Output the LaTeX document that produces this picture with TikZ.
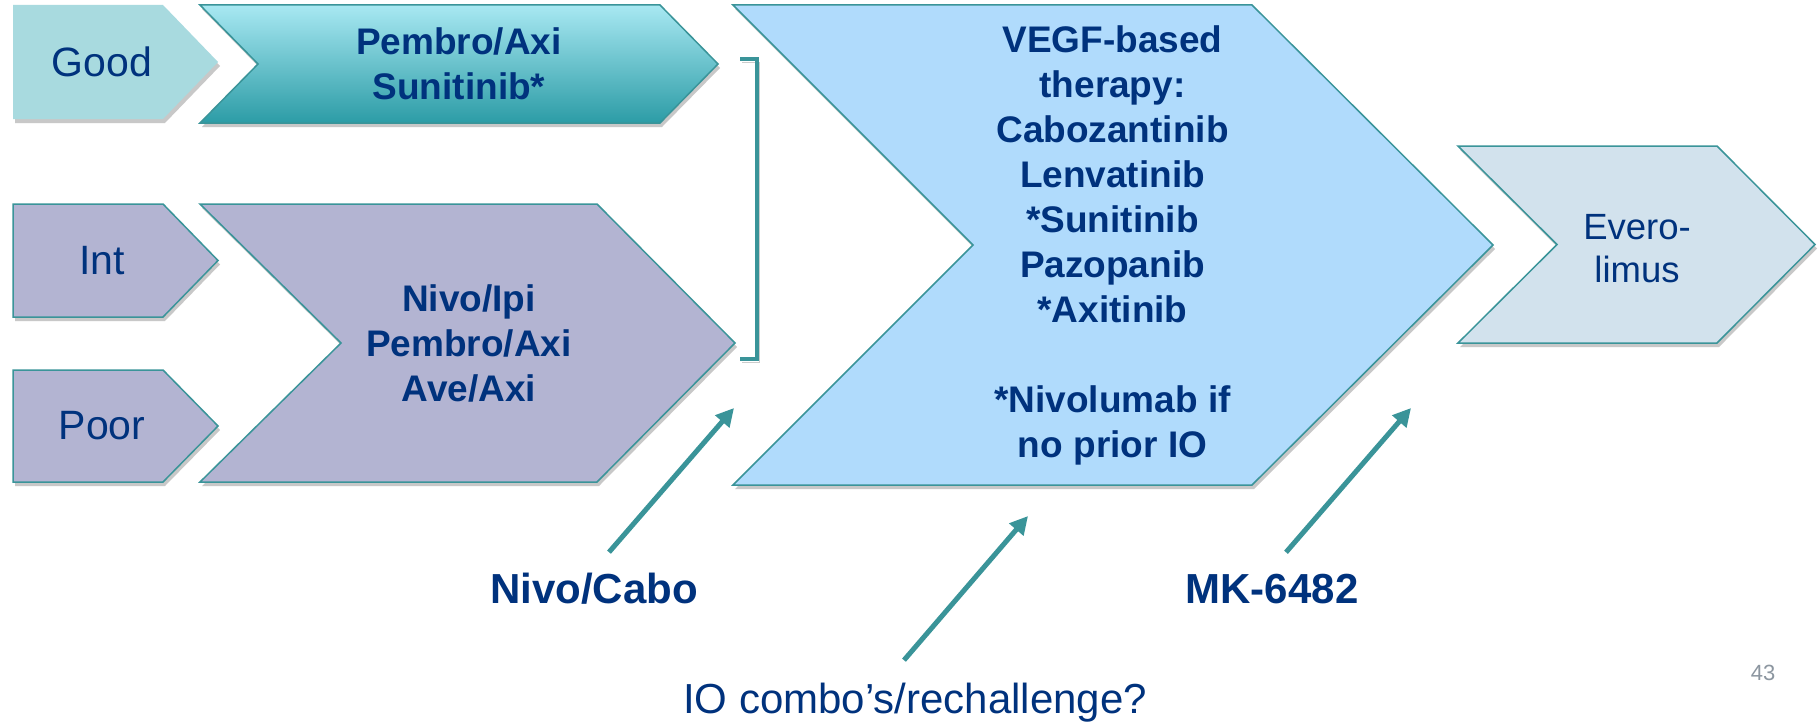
\documentclass[tikz,border=0pt]{standalone}
\usepackage{fontspec}
\setmainfont{Liberation Sans}
\usetikzlibrary{arrows.meta,shadows}

\definecolor{navytext}{RGB}{0,50,125}
\definecolor{tealline}{RGB}{58,148,153}
\definecolor{goodfill}{RGB}{168,218,223}
\definecolor{pembrotop}{RGB}{168,232,242}
\definecolor{pembrobot}{RGB}{44,156,166}
\definecolor{riskfill}{RGB}{179,180,210}
\definecolor{vegffill}{RGB}{176,219,252}
\definecolor{everofill}{RGB}{210,226,237}
\definecolor{pagegray}{RGB}{140,150,160}

\tikzset{
	chevbox/.style = {draw=tealline, line width=0.75pt,
	 drop shadow={shadow xshift=1pt, shadow yshift=-2pt, opacity=0.3, fill=black!70}},
	goodbox/.style = {fill=goodfill, draw=none},
	pembrobox/.style = {top color=pembrotop, bottom color=pembrobot},
	riskbox/.style = {fill=riskfill},
	vegfbox/.style = {fill=vegffill},
	everobox/.style = {fill=everofill},
	risktext/.style = {text=navytext, font=\fontsize{20.5}{24}\selectfont},
	drugtext/.style = {text=navytext, align=center, font=\bfseries\fontsize{18.5}{22.5}\selectfont},
	agent/.style = {text=navytext, inner sep=0pt, anchor=base, font=\bfseries\fontsize{21}{25}\selectfont},
	ioarrow/.style = {draw=tealline, line width=2.5pt, -{Triangle[length=9pt, width=9pt]}},
	bracket/.style = {draw=tealline, line width=2pt,
	 preaction={draw=black, opacity=0.2, transform canvas={xshift=1pt, yshift=-1.5pt}}}
}
\tikzset{
	pics/chevron/.style args = {#1/#2/#3/#4/#5}{code = {
	 \coordinate (-center) at ({(#4+#1-#3)/2},{#2/2});
	 \draw [chevbox, #5] (0,0) -- ({#1-#3},0) -- (#1,{#2/2}) -- ({#1-#3},#2) -- (0,#2) -- (#4,{#2/2}) -- cycle;
	 }}
}

\begin{document}
\begin{tikzpicture}[x=0.5pt, y=-0.5pt]
\path[use as bounding box, fill=white] (0,0) rectangle (1818,722);

% CHEVRONS
% risk groups
\pic (good) at (13,5) {chevron=205/114/55/0/goodbox};
\pic (int) at (13,204) {chevron=205/113/55/0/riskbox};
\pic (poor) at (13,370) {chevron=205/112/55/0/riskbox};
% first line
\pic (pembro) at (200,5) {chevron=518/118/58/58/pembrobox};
\pic (nivo) at (200,204) {chevron=535/278/138/141/riskbox};
% later lines
\pic (vegf) at (733,5) {chevron=760/480/241/240/vegfbox};
\pic (evero) at (1458,146) {chevron=357/197/98/99/everobox};

% NODES
\node (goodlabel) [risktext, xshift=7pt] at (good-center) {Good};
\node (intlabel) [risktext, xshift=7pt] at (int-center) {Int};
\node (poorlabel) [risktext, xshift=7pt] at (poor-center) {Poor};
\node (pembrolabel) [drugtext] at (pembro-center) {Pembro/Axi\\Sunitinib*};
\node (nivolabel) [drugtext] at (nivo-center) {Nivo/Ipi\\Pembro/Axi\\Ave/Axi};
\node (vegflabel) [drugtext] at (vegf-center) {VEGF-based\\therapy:\\Cabozantinib\\Lenvatinib\\{*}Sunitinib\\Pazopanib\\{*}Axitinib\\[22.5pt]{*}Nivolumab if\\no prior IO};
\node (everolabel) [text=navytext, align=center, font=\fontsize{18.25}{21.5}\selectfont, yshift=-2pt] at (evero-center) {Evero-\\limus};
% new agents
\node (cabo) [agent] at (594,603) {Nivo/Cabo};
\node (mk) [agent] at (1272,603) {MK-6482};
\node (io) [agent, font=\fontsize{21}{25}\selectfont] at (915,713) {IO combo’s/rechallenge?};
\node (pagenum) [text=pagegray, font=\fontsize{11}{13}\selectfont] at (1763,673) {43};

\coordinate (brtop) at (740,59);
\coordinate (brbot) at (740,359);
\coordinate (cabohead) at (734,408);
\coordinate (iohead) at (1028,516);
\coordinate (mkhead) at (1411,408);

%CONNECTIONS
\draw [bracket] (brtop) -- ++(17,0) |- (brbot);
\draw [ioarrow] ([shift={(15,-20)}]cabo.north) -- (cabohead);
\draw [ioarrow] ([shift={(-11,-22)}]io.north) -- (iohead);
\draw [ioarrow] ([shift={(14,-21)}]mk.north) -- (mkhead);

\end{tikzpicture}
\end{document}
